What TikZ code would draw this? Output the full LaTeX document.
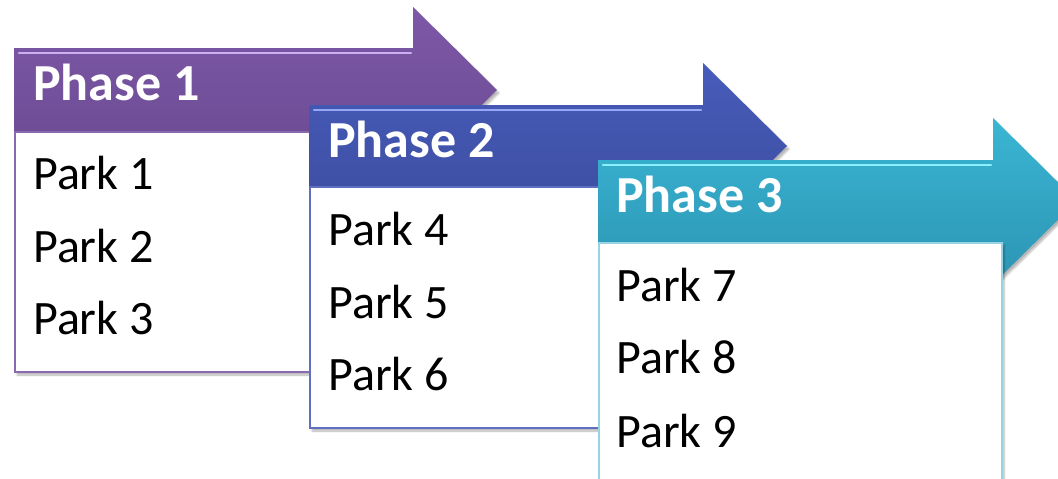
\documentclass[tikz,border=0pt]{standalone}
\usepackage{fontspec}
\setmainfont{Carlito}
\usetikzlibrary{shadows.blur}
\definecolor{phaseAtop}{HTML}{7E58A8}
\definecolor{phaseAbot}{HTML}{6A4A90}
\definecolor{phaseAhi}{HTML}{CDAEF0}
\definecolor{boxA}{HTML}{8A6AAE}
\definecolor{phaseBtop}{HTML}{475CBA}
\definecolor{phaseBbot}{HTML}{3C4C9E}
\definecolor{phaseBhi}{HTML}{95A8F5}
\definecolor{boxB}{HTML}{5F70C2}
\definecolor{phaseCtop}{HTML}{3AB6D3}
\definecolor{phaseCbot}{HTML}{2C94B4}
\definecolor{phaseChi}{HTML}{8AF0FF}
\definecolor{boxC}{HTML}{96D4E4}
\begin{document}
\begin{tikzpicture}[x=1pt,y=-1pt,
    arrowshadow/.style={blur shadow={shadow xshift=2pt,shadow yshift=-3pt,shadow blur steps=6,shadow opacity=30}},
    phasearrow/.style={arrowshadow,draw=none},
    highlight/.style={line width=2.5pt,line cap=round},
    parkbox/.style={arrowshadow,fill=white,line width=1.6pt},
    phasetext/.style={anchor=base west,inner sep=0pt,text=white,font=\fontsize{52}{52}\selectfont\bfseries},
    parktext/.style={anchor=base west,inner sep=0pt,font=\fontsize{48}{48}\selectfont}]
    \clip (0,0) rectangle (1058,479);
    % phase 1
    \path[phasearrow,top color=phaseAtop,bottom color=phaseAbot]
          (14,48) --++ (399,0) --++ (0,-41) --++ (84,83)
          --++ (-84,83) --++ (0,-41) --++ (-399,0) -- cycle;
    \draw[highlight,phaseAhi] (19,53) --++ (392,0);
    \draw[parkbox,draw=boxA] (15,132) rectangle (418,372);
    \node[phasetext] (ph1) at (33,100) {Phase 1};
    \node[parktext] (pk1) at (33,189) {Park 1};
    \node[parktext] (pk2) at (33,262) {Park 2};
    \node[parktext] (pk3) at (33,334) {Park 3};
    % phase 2
    \path[phasearrow,top color=phaseBtop,bottom color=phaseBbot]
          (309,105) --++ (394,0) --++ (0,-42) --++ (84,83)
          --++ (-84,83) --++ (0,-42) --++ (-394,0) -- cycle;
    \draw[highlight,phaseBhi] (314,110) --++ (387,0);
    \draw[parkbox,draw=boxB] (310,187) rectangle (713,428);
    \node[phasetext] (ph2) at (328,157) {Phase 2};
    \node[parktext] (pk4) at (328,245) {Park 4};
    \node[parktext] (pk5) at (328,318) {Park 5};
    \node[parktext] (pk6) at (328,390) {Park 6};
    % phase 3
    \path[phasearrow,top color=phaseCtop,bottom color=phaseCbot]
          (598,160) --++ (395,0) --++ (0,-42) --++ (84,83)
          --++ (-84,83) --++ (0,-42) --++ (-395,0) -- cycle;
    \draw[highlight,phaseChi] (603,165) --++ (388,0);
    \draw[parkbox,draw=boxC] (599,243) rectangle (1002,485);
    \node[phasetext] (ph3) at (616,212) {Phase 3};
    \node[parktext] (pk7) at (616,301) {Park 7};
    \node[parktext] (pk8) at (616,373) {Park 8};
    \node[parktext] (pk9) at (616,447) {Park 9};
\end{tikzpicture}
\end{document}
